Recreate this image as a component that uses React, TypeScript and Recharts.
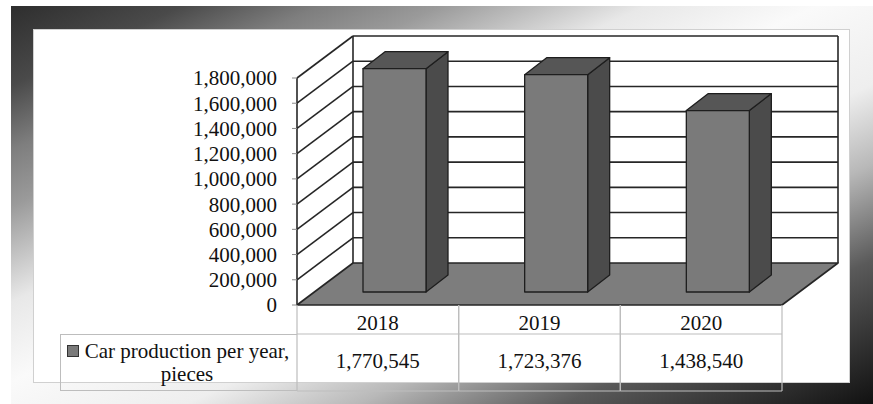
import { BarChart, Bar, XAxis, YAxis, CartesianGrid, Legend } from 'recharts';

const years = ['2018', '2019', '2020'];
const production = [1770545, 1723376, 1438540];
const yTicks = [0, 200000, 400000, 600000, 800000, 1000000, 1200000, 1400000, 1600000, 1800000];
const seriesName = 'Car production per year, pieces';

const data = years.map((year, i) => ({ year, value: production[i] }));

const FONT = '"Liberation Serif", "Times New Roman", Times, serif';
const FS = 21;
const LINE = '#262626';
const TABLE_LINE = '#bdbdbd';
// oblique projection of the 3D box
const DEPTH_X = 56;
const DEPTH_Y = 42;
const BAR_OFF_X = 17; // bar front face sits a bit inside the box
const BAR_OFF_Y = 13;
const BAR_DX = 22;
const BAR_DY = 17;

const fmt = (v: number) => v.toLocaleString('en-US');

// grid lines become the side wall diagonals + back wall; the bottom one becomes the floor
function wallLine(p: any) {
  const { x1, y1, x2, index, y, height } = p;
  const isTop = Math.abs(y1 - y) < 0.5;
  const isBottom = Math.abs(y1 - (y + height)) < 0.5;
  const bx1 = x1 + DEPTH_X;
  const bx2 = x2 + DEPTH_X;
  const by = y1 - DEPTH_Y;
  return (
    <g key={`wall-${index}`}>
      {isBottom ? (
        <polygon
          points={`${x1},${y1} ${x2},${y1} ${bx2},${by} ${bx1},${by}`}
          fill="#7d7d7d" stroke={LINE} strokeWidth={1.6} strokeLinejoin="round"
        />
      ) : (
        <>
          <line x1={x1} y1={y1} x2={bx1} y2={by} stroke={LINE} strokeWidth={1.6} />
          <line x1={bx1} y1={by} x2={bx2} y2={by} stroke={LINE} strokeWidth={1.6} />
        </>
      )}
      {isTop && (
        <>
          <line x1={bx1} y1={by} x2={bx1} y2={y + height - DEPTH_Y} stroke={LINE} strokeWidth={1.6} />
          <line x1={bx2} y1={by} x2={bx2} y2={y + height - DEPTH_Y} stroke={LINE} strokeWidth={1.6} />
        </>
      )}
    </g>
  );
}

function Box3D(p: any) {
  const { x, y, width: w, height: h } = p;
  if (!h) return <g />;
  const fx = x + BAR_OFF_X;
  const fy = y - BAR_OFF_Y;
  const fb = fy + h;
  return (
    <g stroke="#1e1e1e" strokeWidth={1.3} strokeLinejoin="round">
      <polygon
        points={`${fx + w},${fy} ${fx + w + BAR_DX},${fy - BAR_DY} ${fx + w + BAR_DX},${fb - BAR_DY} ${fx + w},${fb}`}
        fill="#4b4b4b"
      />
      <polygon
        points={`${fx},${fy} ${fx + BAR_DX},${fy - BAR_DY} ${fx + w + BAR_DX},${fy - BAR_DY} ${fx + w},${fy}`}
        fill="#565656"
      />
      <rect x={fx} y={fy} width={w} height={h} fill="#7a7a7a" />
    </g>
  );
}

// data table under the plot, one column per category tick
function TableTick(p: any) {
  const { x, y, payload, index } = p;
  const band = (p.width || 485) / years.length;
  const left = x - band / 2;
  const right = x + band / 2;
  const value = production[payload.index ?? index];
  return (
    <g>
      <line x1={left} y1={y} x2={left} y2={y + 86} stroke={TABLE_LINE} strokeWidth={1.2} />
      <line x1={right} y1={y} x2={right} y2={y + 86} stroke={TABLE_LINE} strokeWidth={1.2} />
      <line x1={left} y1={y + 29} x2={right} y2={y + 29} stroke={TABLE_LINE} strokeWidth={1.2} />
      <line x1={left} y1={y + 86} x2={right} y2={y + 86} stroke={TABLE_LINE} strokeWidth={1.2} />
      <text x={x} y={y + 25} textAnchor="middle" fill="#111" fontSize={FS} fontFamily={FONT}>
        {payload.value}
      </text>
      <text x={x} y={y + 63} textAnchor="middle" fill="#111" fontSize={FS} fontFamily={FONT}>
        {fmt(value)}
      </text>
    </g>
  );
}

function LegendCell(props: any) {
  const item = (props.payload || [])[0];
  return (
    <div
      style={{
        boxSizing: 'border-box', width: 237, height: 57,
        borderTop: `1px solid ${TABLE_LINE}`, borderLeft: `1px solid ${TABLE_LINE}`,
        borderBottom: `1px solid ${TABLE_LINE}`,
        display: 'flex', alignItems: 'center', justifyContent: 'center',
        fontFamily: FONT, fontSize: FS, lineHeight: '23px', color: '#111',
      }}
    >
      <div style={{ display: 'flex', alignItems: 'flex-start' }}>
        <span
          style={{
            display: 'inline-block', width: 10, height: 10, marginTop: 5, marginRight: 4,
            background: item?.color || '#7a7a7a', border: '1px solid #333', flex: 'none',
          }}
        />
        <div style={{ textAlign: 'center', width: 208 }}>{item?.value ?? seriesName}</div>
      </div>
    </div>
  );
}

export default function App() {
  return (
    <div style={{ position: 'absolute', left: 0, top: 0, width: 873, height: 404, background: '#fff', overflow: 'hidden' }}>
      <div
        style={{
          position: 'absolute', left: 11, top: 6, width: 862, height: 398,
          background:
            'linear-gradient(155deg, #2e2e2e 0%, #4a4a4a 10%, #7e7e7e 18%, #9a9a9a 25%, #e8e8e8 37%, #fafafa 47%, #eeeeee 60%, #b8b8b8 70%, #5a5a5a 82%, #111 100%)',
        }}
      />
      <div
        style={{
          position: 'absolute', left: 34, top: 30, width: 815, height: 352,
          background: '#fff', boxShadow: '0 0 0 1px #d0d0d0',
        }}
      />
      <div style={{ position: 'absolute', left: 0, top: 0, fontFamily: FONT }}>
        <BarChart
          width={873}
          height={404}
          data={data}
          margin={{ top: 78, right: 91, bottom: 0, left: 217 }}
        >
          <CartesianGrid vertical={false} horizontal={wallLine} />
          <XAxis
            dataKey="year"
            height={99}
            axisLine={false}
            tickLine={false}
            tickSize={0}
            tickMargin={0}
            interval={0}
            tick={<TableTick />}
          />
          <YAxis
            width={80}
            domain={[0, 1800000]}
            ticks={yTicks}
            interval={0}
            tickFormatter={fmt}
            axisLine={{ stroke: LINE, strokeWidth: 1.6 }}
            tickLine={{ stroke: '#8a8a8a' }}
            tickSize={5}
            tickMargin={15}
            tick={{ fill: '#111', fontSize: FS, fontFamily: FONT }}
          />
          <Legend
            layout="horizontal"
            align="center"
            verticalAlign="middle"
            wrapperStyle={{ left: 60, top: 334, width: 237, height: 57 }}
            content={<LegendCell />}
          />
          <Bar
            dataKey="value"
            name={seriesName}
            fill="#7a7a7a"
            barSize={63}
            shape={<Box3D />}
            isAnimationActive={false}
          />
        </BarChart>
      </div>
    </div>
  );
}
